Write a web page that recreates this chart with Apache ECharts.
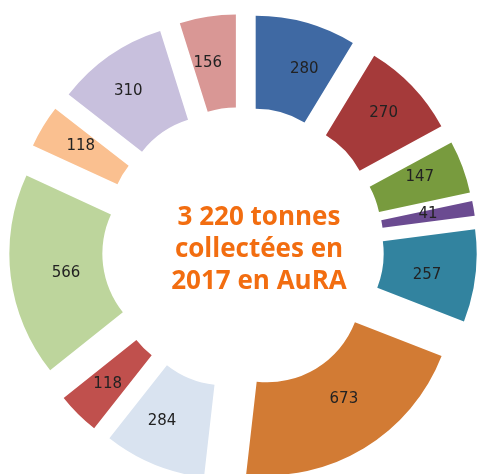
<!DOCTYPE html>
<html>
<head>
<meta charset="utf-8">
<script src="https://cdn.jsdelivr.net/npm/echarts@6/dist/echarts.min.js"></script>
<style>
  html, body { margin: 0; padding: 0; background: #fff; }
  #main { width: 478px; height: 474px; }
</style>
</head>
<body>
<div id="main"></div>
<script>
// tonnes collectées par filière, dans l'ordre horaire depuis midi
var values = [280, 270, 147, 41, 257, 673, 284, 118, 566, 118, 310, 156];
var colors = ['#3f69a3', '#a53a3a', '#789b3e', '#6b4b91', '#32839f', '#d27b34',
              '#d9e3f0', '#c0504d', '#bdd59c', '#fac090', '#c8c0dd', '#d99795'];
var centerLines = ['3 220 tonnes', 'collectées en', '2017 en AuRA'];

var chart = echarts.init(document.getElementById('main'));

var labelStyle = {
  show: true,
  position: 'inside',
  formatter: '{c}',
  color: '#222',
  fontSize: 15,
  fontFamily: 'DejaVu Sans'
};

chart.setOption({
  animation: false,
  graphic: [{
    type: 'text',
    x: 259,
    y: 202,
    style: {
      text: centerLines.join('\n'),
      align: 'center',
      verticalAlign: 'top',
      fill: '#f26d10',
      font: 'bold 26px "Open Sans"',
      lineHeight: 32
    }
  }],
  series: [{
    type: 'pie',
    center: [243, 248],
    radius: [94, 187],
    startAngle: 90,
    clockwise: true,
    selectedMode: 'multiple',
    selectedOffset: 47,
    avoidLabelOverlap: false,
    emphasis: { disabled: true },
    label: labelStyle,
    select: { label: labelStyle },
    labelLine: { show: false },
    data: values.map(function (v, i) {
      return { value: v, selected: true, itemStyle: { color: colors[i] } };
    })
  }]
});
</script>
</body>
</html>
